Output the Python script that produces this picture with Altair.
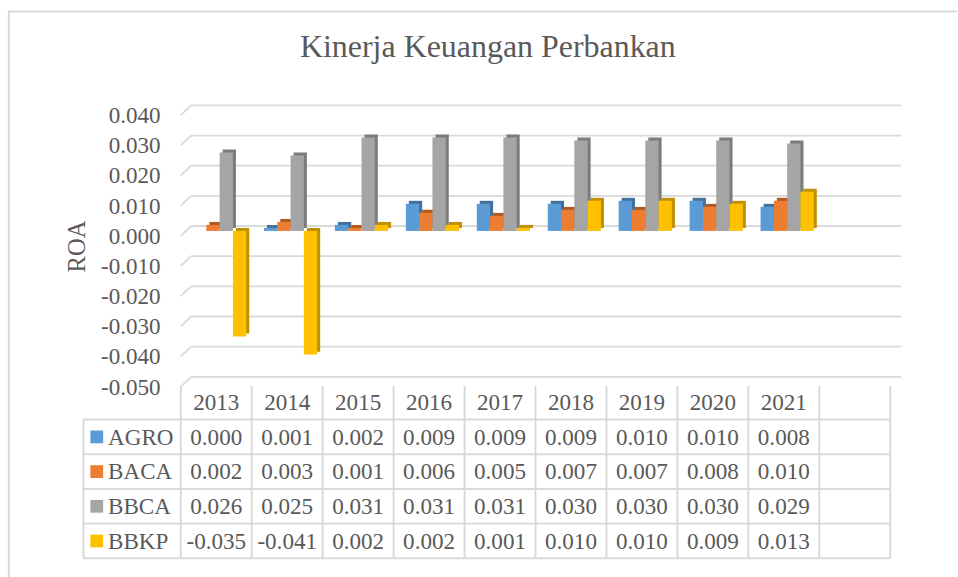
import altair as alt
import pandas as pd

# ---------------- data ----------------
years = ["2013", "2014", "2015", "2016", "2017", "2018", "2019", "2020", "2021"]
blank_col = " "
series = ["AGRO", "BACA", "BBCA", "BBKP"]
agro = [0.000, 0.001, 0.002, 0.009, 0.009, 0.009, 0.010, 0.010, 0.008]
baca = [0.002, 0.003, 0.001, 0.006, 0.005, 0.007, 0.007, 0.008, 0.010]
bbca = [0.026, 0.025, 0.031, 0.031, 0.031, 0.030, 0.030, 0.030, 0.029]
bbkp = [-0.035, -0.041, 0.002, 0.002, 0.001, 0.010, 0.010, 0.009, 0.013]
y_ticks = [0.04, 0.03, 0.02, 0.01, 0.0, -0.01, -0.02, -0.03, -0.04, -0.05]
front_colors = ["#5B9BD5", "#ED7D31", "#A5A5A5", "#FFC000"]
side_colors = ["#41719C", "#AE5A21", "#7C7C7C", "#BF9000"]

title_text = "Kinerja Keuangan Perbankan"
y_title = "ROA"
header_row = "Year"

FONT = "Liberation Serif"
TXT = "#595959"
LINE = "#d9d9d9"

W = 722
H_TOP = 276.3
H_TAB = 176.5

values_by_series = [agro, baca, bbca, bbkp]

rows = []
for s, vals, fc, sc in zip(series, values_by_series, front_colors, side_colors):
    for y, v in zip(years, vals):
        rows.append({"year": y, "series": s, "value": v, "fill": fc, "side": sc})
bars_df = pd.DataFrame(rows)

grid_df = pd.DataFrame({"v": y_ticks})

cells = []
for y in years:
    cells.append({"row": header_row, "col": y, "text": y})
for s, vals in zip(series, values_by_series):
    for y, v in zip(years, vals):
        cells.append({"row": s, "col": y, "text": f"{v:.3f}"})
cells_df = pd.DataFrame(cells)

series_df = pd.DataFrame({"row": series, "fill": front_colors})
cols_df = pd.DataFrame({"col": years + [blank_col]})
last_col_df = pd.DataFrame({"col": [blank_col]})
hrows_df = pd.DataFrame({"row": series})
last_row_df = pd.DataFrame({"row": [series[-1]]})
first_row_df = pd.DataFrame({"row": [series[0]]})

# ---------------- top: 3D-ish column chart ----------------
x_dom = years + [blank_col]
# front faces shifted a little right (3D depth); side faces further right
xs_front = alt.Scale(domain=x_dom, paddingInner=0.25, paddingOuter=0.125, align=0.69)
xs_back = alt.Scale(domain=x_dom, paddingInner=0.25, paddingOuter=0.125, align=0.86)
ys = alt.Scale(domain=[-0.05, 0.04], nice=False, zero=False)
xo = alt.Scale(domain=series, paddingInner=0, paddingOuter=0)

yaxis = alt.Axis(
    values=y_ticks, title=y_title, grid=False, ticks=False, domain=False,
    labelFont=FONT, labelFontSize=23.5, labelColor=TXT, labelPadding=21,
    labelOffset=5.5, labelFlush=False, labelOverlap=False,
    labelExpr="replace(format(datum.value, '.3f'), '\u2212', '-')",
    titleFont=FONT, titleFontSize=25, titleColor=TXT, titleFontWeight="normal",
    titlePadding=11,
)

grid_h = alt.Chart(grid_df).mark_rule(color=LINE, strokeWidth=1.8, yOffset=-5).encode(
    x=alt.value(10.5), x2=alt.value(733),
    y=alt.Y("v:Q", scale=ys, axis=yaxis),
)
grid_d = alt.Chart(grid_df).mark_rule(color=LINE, strokeWidth=1.8, yOffset=5, y2Offset=-5).encode(
    x=alt.value(0), x2=alt.value(10.5),
    y=alt.Y("v:Q", scale=ys, axis=yaxis), y2="v:Q",
)

back = alt.Chart(bars_df).mark_bar(yOffset=-3, y2Offset=-3).encode(
    x=alt.X("year:N", scale=xs_back, axis=None),
    xOffset=alt.XOffset("series:N", scale=xo),
    y=alt.Y("value:Q", scale=ys, axis=yaxis),
    color=alt.Color("side:N", scale=None),
)
front = alt.Chart(bars_df).mark_bar().encode(
    x=alt.X("year:N", scale=xs_front, axis=None),
    xOffset=alt.XOffset("series:N", scale=xo),
    y=alt.Y("value:Q", scale=ys, axis=yaxis),
    color=alt.Color("fill:N", scale=None),
)

top = alt.layer(grid_d, grid_h, back, front).resolve_scale(x="independent").properties(
    width=W, height=H_TOP,
    title=alt.TitleParams(
        title_text, font=FONT, fontSize=32.5, color=TXT, fontWeight="normal",
        anchor="middle", frame="group", dx=-48.5, offset=41,
    ),
)

# ---------------- bottom: data table ----------------
txs = alt.Scale(domain=x_dom, paddingInner=0, paddingOuter=0)
tys = alt.Scale(domain=[header_row] + series, paddingInner=0, paddingOuter=0)

cell_text = alt.Chart(cells_df).mark_text(font=FONT, fontSize=23.5, color=TXT, baseline="middle", dy=1).encode(
    x=alt.X("col:N", scale=txs, axis=None),
    y=alt.Y("row:N", scale=tys, axis=None),
    text="text:N",
)
names = alt.Chart(series_df).mark_text(font=FONT, fontSize=23.5, color=TXT, align="left", baseline="middle", dy=1).encode(
    x=alt.value(-74),
    y=alt.Y("row:N", scale=tys, axis=None),
    text="row:N",
)
squares = alt.Chart(series_df).mark_square(size=169, opacity=1).encode(
    x=alt.value(-85.5),
    y=alt.Y("row:N", scale=tys, axis=None),
    color=alt.Color("fill:N", scale=None),
)
vlines = alt.Chart(cols_df).mark_rule(color=LINE, strokeWidth=2).encode(
    x=alt.X("col:N", scale=txs, axis=None, bandPosition=0),
    y=alt.value(1), y2=alt.value(H_TAB),
)
vlast = alt.Chart(last_col_df).mark_rule(color=LINE, strokeWidth=2).encode(
    x=alt.X("col:N", scale=txs, axis=None, bandPosition=1),
    y=alt.value(1), y2=alt.value(H_TAB),
)
hlines = alt.Chart(hrows_df).mark_rule(color=LINE, strokeWidth=2).encode(
    y=alt.Y("row:N", scale=tys, axis=None, bandPosition=0),
    x=alt.value(-99), x2=alt.value(W),
)
hlast = alt.Chart(last_row_df).mark_rule(color=LINE, strokeWidth=2).encode(
    y=alt.Y("row:N", scale=tys, axis=None, bandPosition=1),
    x=alt.value(-99), x2=alt.value(W),
)
vleft = alt.Chart(first_row_df).mark_rule(color=LINE, strokeWidth=2).encode(
    y=alt.Y("row:N", scale=tys, axis=None, bandPosition=0),
    y2=alt.value(H_TAB),
    x=alt.value(-99),
)
# outer chart-area frame (left and top edges)
frame_left = alt.Chart(first_row_df).mark_rule(color=LINE, strokeWidth=2).encode(
    x=alt.value(-175), y=alt.value(-380), y2=alt.value(200),
)
frame_top = alt.Chart(first_row_df).mark_rule(color=LINE, strokeWidth=2).encode(
    x=alt.value(-176), x2=alt.value(790), y=alt.value(-380),
)

table = alt.layer(
    frame_left, frame_top, vlines, vlast, hlines, hlast, vleft, squares, names, cell_text
).properties(width=W, height=H_TAB)

chart = (
    alt.vconcat(top, table, spacing=2.5, bounds="flush")
    .resolve_scale(x="independent", y="independent")
    .properties(padding={"left": 7, "top": 5, "right": 0, "bottom": 0}, background="white")
    .configure_view(stroke=None)
)

chart.save("out.html", embed_options={"renderer": "svg", "actions": False})
